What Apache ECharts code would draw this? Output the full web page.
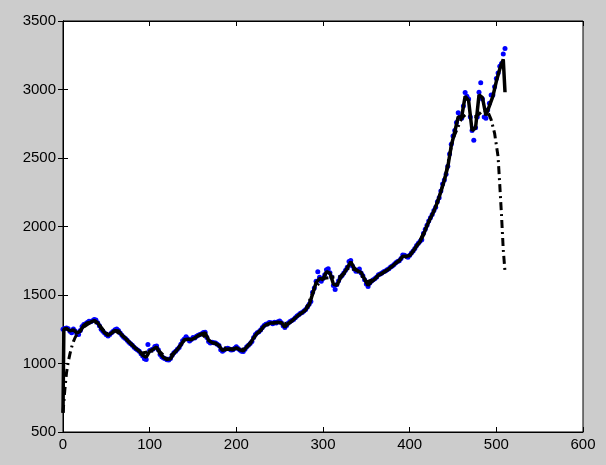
<!DOCTYPE html>
<html>
<head>
<meta charset="utf-8">
<script src="https://cdn.jsdelivr.net/npm/echarts@6/dist/echarts.min.js"></script>
<style>
html,body{margin:0;padding:0;background:#cccccc;}
#c{width:606px;height:465px;}
</style>
</head>
<body>
<div id="c"></div>
<script>
// raw observations (blue dots), x = 0,2,4,...,510
const dotStep = 2;
const dotValues = [
1250,1256,1260,1254,1236,1224,1252,1238,1216,1212,
1240,1270,1284,1290,1300,1308,1305,1312,1322,1318,
1298,1276,1250,1236,1222,1210,1200,1212,1224,1236,
1246,1252,1240,1222,1206,1192,1183,1170,1156,1145,
1133,1118,1108,1098,1090,1072,1055,1034,1030,1138,
1094,1100,1106,1124,1128,1100,1066,1050,1040,1034,
1028,1026,1036,1060,1078,1090,1104,1116,1140,1166,
1178,1196,1180,1164,1176,1190,1186,1198,1206,1212,
1218,1226,1228,1190,1160,1150,1156,1152,1150,1140,
1132,1100,1090,1098,1108,1112,1106,1098,1100,1112,
1122,1110,1098,1090,1088,1104,1122,1134,1146,1160,
1190,1212,1224,1232,1244,1262,1278,1286,1290,1300,
1298,1290,1302,1296,1304,1310,1298,1276,1262,1278,
1296,1306,1314,1322,1334,1346,1356,1366,1372,1384,
1394,1412,1432,1452,1520,1552,1600,1670,1630,1600,
1620,1648,1684,1692,1662,1632,1570,1540,1576,1604,
1630,1642,1660,1680,1702,1744,1752,1712,1690,1674,
1676,1690,1660,1640,1612,1580,1562,1588,1602,1612,
1620,1632,1648,1654,1660,1670,1676,1684,1692,1704,
1712,1722,1736,1744,1750,1766,1792,1790,1782,1776,
1790,1806,1822,1840,1862,1878,1892,1904,1950,1980,
2010,2040,2064,2088,2116,2140,2180,2210,2260,2310,
2340,2382,2440,2530,2600,2660,2700,2760,2830,2800,
2790,2880,2978,2950,2930,2800,2700,2630,2720,2800,
2980,3050,2930,2800,2790,2850,2900,2960,2960,3020,
3080,3120,3170,3190,3260,3300
];

// light smoothing (solid black line)
const solidX = [0,1,4,8,12,16,20,24,28,32,36,40,44,48,52,56,60,64,68,72,76,80,84,88,92,96,100,104,108,112,116,120,124,128,132,136,140,144,148,152,156,160,164,168,172,176,180,184,188,192,196,200,204,208,212,216,220,224,228,232,236,240,244,248,252,256,260,264,268,272,276,280,284,288,292,296,300,304,308,312,316,320,324,328,332,336,340,344,348,352,356,360,364,368,372,376,380,384,388,392,396,400,404,408,412,416,420,424,428,432,436,440,444,448,452,456,460,464,468,472,476,480,484,488,492,496,500,504,508,510];
const solidY = [640,1250,
1256,1238,1246,1222,1236,1278,1296,1302,1314,1298,
1256,1226,1206,1222,1240,1238,1208,1184,1158,1134,
1110,1090,1060,1046,1090,1104,1120,1072,1044,1030,
1034,1074,1102,1136,1174,1178,1174,1186,1204,1216,
1224,1170,1152,1148,1130,1096,1104,1106,1100,1114,
1100,1092,1120,1144,1188,1222,1242,1274,1288,1296,
1298,1302,1298,1266,1292,1310,1332,1354,1372,1392,
1428,1508,1590,1620,1616,1670,1660,1580,1570,1624,
1656,1698,1742,1696,1676,1664,1616,1570,1598,1618,
1644,1658,1674,1690,1710,1734,1750,1782,1782,1788,
1820,1858,1890,1940,2006,2062,2112,2176,2254,2338,
2436,2590,2690,2800,2800,2950,2920,2700,2720,2960,
2940,2810,2880,2950,3060,3150,3220,
2980];

// heavy smoothing (dash-dot black line)
const dashX = [0,2,4,6,8,10,12,14,16,18,20,24,30,40,50,60,70,80,90,100,110,120,130,140,150,160,170,180,190,200,210,220,230,240,250,260,270,280,290,300,310,320,330,340,350,360,370,380,390,400,410,420,430,440,450,460,465,470,475,480,485,490,494,498,502,504,506,508,510];
const dashY = [640,800,930,1010,1070,1120,1160,1190,1210,1228,1240,1266,1292,
1300,1215,1240,1196,1134,1075,1088,1098,1036,1090,
1172,1180,1214,1160,1132,1104,1110,1104,1185,1258,
1295,1298,1290,1343,1392,1545,1620,1630,1635,1700,
1676,1595,1618,1666,1710,1766,1788,1874,2006,2144,
2338,2640,2790,
2820,2810,2800,2820,2850,2840,2780,2680,2510,2300,2080,1830,1670];

// axis ticks
const xMin = 0, xMax = 600, xStep = 100;
const yMin = 500, yMax = 3500, yStep = 500;

const dots = dotValues.map((v, i) => [i * dotStep, v]);
const solid = solidX.map((x, i) => [x, solidY[i]]);
const dash = dashX.map((x, i) => [x, dashY[i]]);

const font = {color: '#000', fontFamily: 'Liberation Sans, Arial, sans-serif', fontSize: 15,
  formatter: v => String(v)};
const chart = echarts.init(document.getElementById('c'), null, {renderer: 'canvas'});
chart.setOption({
  backgroundColor: '#cccccc',
  animation: false,
  grid: {left: 63, top: 21, width: 520, height: 411, show: true, backgroundColor: '#ffffff', borderColor: '#000', borderWidth: 1},
  xAxis: [
    {type: 'value', min: xMin, max: xMax, interval: xStep, position: 'bottom',
     axisLine: {show: true, lineStyle: {color: '#000', width: 1}},
     axisTick: {show: true, inside: true, length: 5, lineStyle: {color: '#000'}},
     axisLabel: Object.assign({margin: 5}, font), splitLine: {show: false}},
    {type: 'value', min: xMin, max: xMax, interval: xStep, position: 'top',
     axisLine: {show: true, lineStyle: {color: '#000', width: 1}},
     axisTick: {show: true, inside: true, length: 5, lineStyle: {color: '#000'}},
     axisLabel: {show: false}, splitLine: {show: false}}
  ],
  yAxis: [
    {type: 'value', min: yMin, max: yMax, interval: yStep, position: 'left',
     axisLine: {show: true, lineStyle: {color: '#000', width: 1}},
     axisTick: {show: true, inside: true, length: 5, lineStyle: {color: '#000'}},
     axisLabel: Object.assign({margin: 7}, font), splitLine: {show: false}},
    {type: 'value', min: yMin, max: yMax, interval: yStep, position: 'right',
     axisLine: {show: true, lineStyle: {color: '#000', width: 1}},
     axisTick: {show: true, inside: true, length: 5, lineStyle: {color: '#000'}},
     axisLabel: {show: false}, splitLine: {show: false}}
  ],
  series: [
    {type: 'scatter', data: dots, symbol: 'circle', symbolSize: 5,
     itemStyle: {color: '#0000ff', opacity: 1}, z: 2, silent: true},
    {type: 'line', data: dash, showSymbol: false, symbol: 'none',
     lineStyle: {color: '#000', width: 3, type: [8, 4, 2, 4]}, z: 3, silent: true},
    {type: 'line', data: solid, showSymbol: false, symbol: 'none',
     lineStyle: {color: '#000', width: 3.5}, z: 4, silent: true}
  ]
});
</script>
</body>
</html>
